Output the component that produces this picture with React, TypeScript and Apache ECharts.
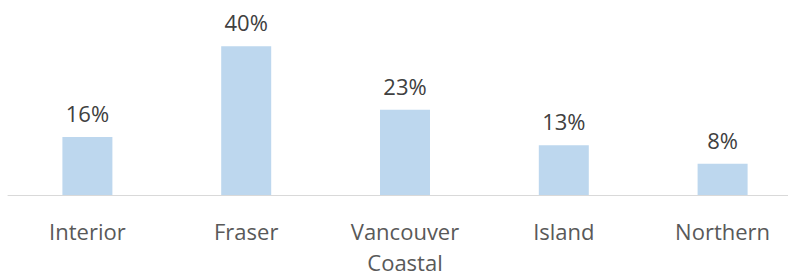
import React, { useEffect, useRef } from "react";
import * as echarts from "echarts";

const categories = ["Interior", "Fraser", "Vancouver\nCoastal", "Island", "Northern"];
const shares = [15.6, 40, 22.9, 13.4, 8.4];
const barColor = "#BDD7EE";

export default function App() {
  const ref = useRef<HTMLDivElement>(null);
  useEffect(() => {
    if (!ref.current) return;
    const chart = echarts.init(ref.current, undefined, { renderer: "svg" });
    chart.setOption({
      animation: false,
      grid: { left: 8, top: 9, width: 794, height: 188, containLabel: false },
      xAxis: {
        type: "category",
        data: categories,
        axisLine: { lineStyle: { color: "#D9D9D9", width: 1 } },
        axisTick: { show: false },
        axisLabel: {
          color: "#595959",
          fontSize: 22,
          fontFamily: "Open Sans",
          margin: 20,
          lineHeight: 31,
          interval: 0,
        },
      },
      yAxis: {
        type: "value",
        min: 0,
        max: 50,
        show: false,
        splitLine: { show: false },
      },
      series: [
        {
          type: "bar",
          data: shares,
          barWidth: 50,
          itemStyle: { color: barColor },
          label: {
            show: true,
            position: "top",
            distance: 13,
            color: "#404040",
            fontSize: 22,
            fontFamily: "Open Sans",
            formatter: (p: any) => Math.round(p.value) + "%",
          },
        },
      ],
    });
    return () => chart.dispose();
  }, []);
  return (
    <div style={{ position: "fixed", left: 0, top: 0, width: 788, height: 277, overflow: "hidden", background: "#fff" }}>
      <div ref={ref} style={{ width: 810, height: 277 }} />
    </div>
  );
}
